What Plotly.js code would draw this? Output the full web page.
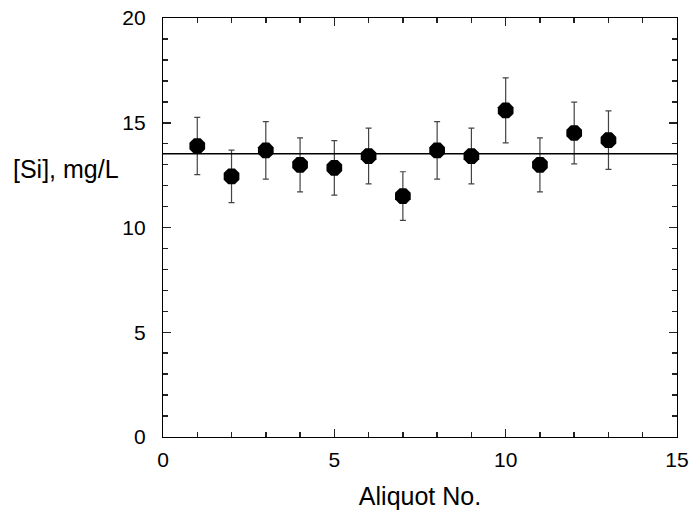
<!DOCTYPE html>
<html>
<head>
<meta charset="utf-8">
<script src="https://cdn.plot.ly/plotly-3.0.1.min.js"></script>
<style>html,body{margin:0;padding:0;background:#fff;}#chart{width:690px;height:512px;}</style>
</head>
<body>
<div id="chart"></div>
<script>
const aliquots = [1, 2, 3, 4, 5, 6, 7, 8, 9, 10, 11, 12, 13];
const siConc = [13.89, 12.44, 13.68, 12.99, 12.85, 13.41, 11.50, 13.68, 13.41, 15.59, 12.99, 14.51, 14.17];
const siErr = [1.37, 1.25, 1.37, 1.29, 1.30, 1.33, 1.16, 1.37, 1.33, 1.55, 1.29, 1.47, 1.40];
const meanLineX = [0, 15];
const meanValue = 13.52;
const xRange = [0, 15];
const yRange = [0, 20];

const tickFont = {family: 'Liberation Sans, Arial, sans-serif', size: 21, color: '#000'};
const titleFont = {family: 'Liberation Sans, Arial, sans-serif', size: 25, color: '#000'};

const traces = [
  {
    x: meanLineX,
    y: meanLineX.map(() => meanValue),
    xaxis: 'x2', yaxis: 'y2',
    mode: 'lines',
    line: {color: '#000', width: 1.3},
    hoverinfo: 'skip',
    showlegend: false
  },
  {
    x: aliquots,
    y: siConc,
    mode: 'markers',
    marker: {symbol: 'octagon', size: 17, color: '#000', line: {width: 0}},
    error_y: {type: 'data', array: siErr, visible: true, color: '#444', thickness: 1.2, width: 3},
    showlegend: false
  }
];

const major = {
  showgrid: false, zeroline: false,
  showline: true, linecolor: '#000', linewidth: 1.2, mirror: 'allticks',
  ticks: 'inside', ticklen: 8, tickwidth: 1.5, tickcolor: '#222',
  tickfont: tickFont, dtick: 5
};
const minorAx = {
  showgrid: false, zeroline: false,
  showline: true, linecolor: '#000', linewidth: 1.2, mirror: 'allticks',
  ticks: 'inside', ticklen: 5, tickwidth: 1.5, tickcolor: '#222',
  showticklabels: false, dtick: 1
};

const layout = {
  width: 690,
  height: 512,
  margin: {l: 163, r: 13, t: 18, b: 75},
  paper_bgcolor: '#fff',
  plot_bgcolor: '#fff',
  font: tickFont,
  xaxis: Object.assign({}, major, {
    range: xRange,
    ticklabelstandoff: 4,
    title: {text: 'Aliquot No.', font: titleFont, standoff: 17}
  }),
  yaxis: Object.assign({}, major, {
    range: yRange,
    ticklabelstandoff: 12
  }),
  xaxis2: Object.assign({}, minorAx, {range: xRange, overlaying: 'x', anchor: 'y2'}),
  yaxis2: Object.assign({}, minorAx, {range: yRange, overlaying: 'y', anchor: 'x2', side: 'left'}),
  annotations: [{
    text: '[Si], mg/L',
    xref: 'paper', yref: 'paper',
    x: -0.082, y: 0.64,
    xanchor: 'right', yanchor: 'middle',
    showarrow: false,
    font: titleFont
  }]
};

Plotly.newPlot('chart', traces, layout, {displayModeBar: false, staticPlot: true});
</script>
</body>
</html>
